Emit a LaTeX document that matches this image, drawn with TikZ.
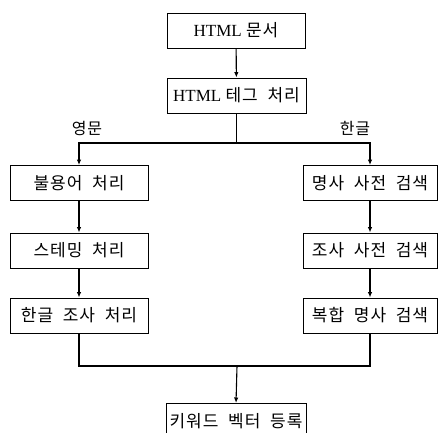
\documentclass[tikz,border=0pt]{standalone}
\usepackage{fontspec}
\setmainfont{Liberation Serif}
\newfontfamily\kr[LetterSpace=6,WordSpace=2]{Noto Sans CJK KR}
\usetikzlibrary{arrows.meta}

\begin{document}
\begin{tikzpicture}[x=1pt,y=-1pt,
  box/.style={draw, line width=0.9pt, minimum height=35pt, inner sep=0pt,
              font=\fontsize{17}{20}\selectfont},
  flow/.style={line width=1.1pt, -{Latex[length=5.5pt,width=4.5pt]}},
  link/.style={line width=1.1pt},
  tag/.style={font=\fontsize{16}{19}\selectfont\kr, inner sep=0pt}]
\useasboundingbox (0,0) rectangle (438,432);
\clip (0,0) rectangle (438,432);

% main column
\node[box, minimum width=138pt] (doc)  at (236,30.5) {HTML {\kr 문서}};
\node[box, minimum width=139pt] (html) at (236.5,95.5) {HTML {\kr 테그 처리}};

% English branch
\node[box, minimum width=138pt] (l1) at (79,183) {\kr 불용어 처리};
\node[box, minimum width=138pt] (l2) at (79,250.5) {\kr 스테밍 처리};
\node[box, minimum width=138pt] (l3) at (79,315.5) {\kr 한글 조사 처리};

% Korean branch
\node[box, minimum width=134pt] (r1) at (370,183) {\kr 명사 사전 검색};
\node[box, minimum width=134pt] (r2) at (370,250.5) {\kr 조사 사전 검색};
\node[box, minimum width=134pt] (r3) at (370,315.5) {\kr 복합 명사 검색};

% result (runs past the lower edge)
\node[box, minimum width=140pt, anchor=north] (kw) at (236,403) {\kr 키워드 벡터 등록};

% branch labels
\node[tag] (en) at (87,128) {영문};
\node[tag] (ko) at (355,128) {한글};

% connectors
\coordinate (split) at (236.5,143);
\coordinate (join) at (237,366);
\draw[flow] (doc) -- (html);
\draw[link] (html.south) -- (split);
\draw[flow] (split) -| (l1);
\draw[flow] (split) -| (r1);
\draw[flow] (l1) -- (l2);
\draw[flow] (l2) -- (l3);
\draw[flow] (r1) -- (r2);
\draw[flow] (r2) -- (r3);
\draw[link] (l3.south) |- (join);
\draw[link] (r3.south) |- (join);
\draw[flow] (join) -- (kw.north);
\end{tikzpicture}
\end{document}
